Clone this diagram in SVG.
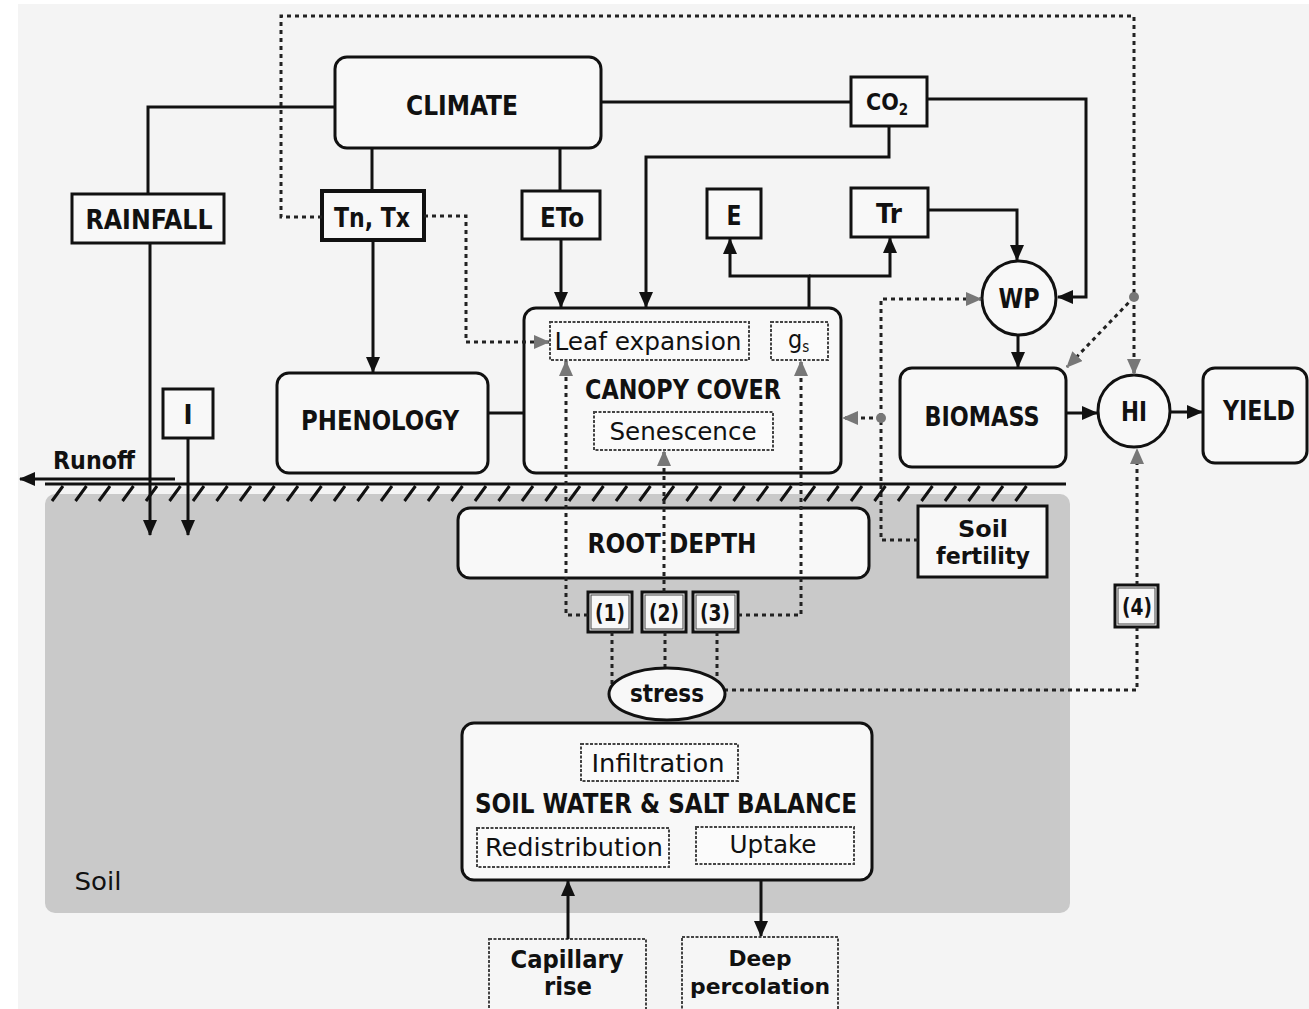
<svg xmlns="http://www.w3.org/2000/svg" width="1309" height="1009" viewBox="0 0 1309 1009">
<defs>
<style>
.t{font-family:"DejaVu Sans Condensed","DejaVu Sans",sans-serif;font-stretch:condensed;fill:#111;text-anchor:middle}
.b{font-weight:bold;font-size:27px}
.r{font-weight:normal;font-size:25px}
.node{fill:#f8f8f8;stroke:#111;stroke-width:3}
.sub{fill:#fbfbfb;stroke:#444;stroke-width:2;stroke-dasharray:3 1.5}
.solid{fill:none;stroke:#111;stroke-width:3}
.dot{fill:none;stroke:#222;stroke-width:3;stroke-dasharray:4 4}
</style>
<marker id="ah" markerUnits="userSpaceOnUse" markerWidth="16" markerHeight="14" refX="15" refY="7" orient="auto"><path d="M0,0 L16,7 L0,14 z" fill="#111"/></marker>
<marker id="ag" markerUnits="userSpaceOnUse" markerWidth="16" markerHeight="14" refX="15" refY="7" orient="auto"><path d="M0,0 L16,7 L0,14 z" fill="#777"/></marker>
</defs>
<rect x="0" y="0" width="1309" height="1009" fill="#ffffff"/>
<rect x="18" y="4" width="1291" height="1005" fill="#f4f4f4"/>
<rect x="45" y="494" width="1025" height="419" rx="10" fill="#c9c9c9"/>
<g id="ground">
<path d="M45,484 L1066,484" class="solid"/>
<path d="M52,501 l11,-15m12.5,15l11,-15m12.5,15l11,-15m12.5,15l11,-15m12.5,15l11,-15m12.5,15l11,-15m12.5,15l11,-15m12.5,15l11,-15m12.5,15l11,-15m12.5,15l11,-15m12.5,15l11,-15m12.5,15l11,-15m12.5,15l11,-15m12.5,15l11,-15m12.5,15l11,-15m12.5,15l11,-15m12.5,15l11,-15m12.5,15l11,-15m12.5,15l11,-15m12.5,15l11,-15m12.5,15l11,-15m12.5,15l11,-15m12.5,15l11,-15m12.5,15l11,-15m12.5,15l11,-15m12.5,15l11,-15m12.5,15l11,-15m12.5,15l11,-15m12.5,15l11,-15m12.5,15l11,-15m12.5,15l11,-15m12.5,15l11,-15m12.5,15l11,-15m12.5,15l11,-15m12.5,15l11,-15m12.5,15l11,-15m12.5,15l11,-15m12.5,15l11,-15m12.5,15l11,-15m12.5,15l11,-15m12.5,15l11,-15m12.5,15l11,-15" class="solid"/>
</g>
<g id="climate"><rect x="335" y="57" width="266" height="91" rx="12" class="node"/><text x="462" y="115" class="t b" textLength="112" lengthAdjust="spacingAndGlyphs">CLIMATE</text></g>
<g id="rainfall"><rect x="72" y="194" width="152" height="49" class="node"/><text x="149" y="229" class="t b" textLength="127" lengthAdjust="spacingAndGlyphs">RAINFALL</text></g>
<g id="tntx"><rect x="322" y="191" width="102" height="49" class="node" style="stroke-width:4"/><text x="372" y="227" class="t b" textLength="76" lengthAdjust="spacingAndGlyphs">Tn, Tx</text></g>
<g id="eto"><rect x="522" y="191" width="78" height="48" class="node"/><text x="562" y="227" class="t b" textLength="44" lengthAdjust="spacingAndGlyphs">ETo</text></g>
<g id="co2"><rect x="851" y="77" width="76" height="49" class="node"/><text x="866" y="110" class="t b" style="text-anchor:start;font-size:23px">CO<tspan style="font-size:15px" dy="5">2</tspan></text></g>
<g id="e"><rect x="707" y="189" width="54" height="49" class="node"/><text x="734" y="225" class="t b" textLength="15" lengthAdjust="spacingAndGlyphs">E</text></g>
<g id="tr"><rect x="851" y="188" width="77" height="49" class="node"/><text x="889" y="223" class="t b" textLength="26" lengthAdjust="spacingAndGlyphs">Tr</text></g>
<g id="wp"><circle cx="1019" cy="298" r="37" class="node"/><text x="1019" y="308" class="t b" textLength="41" lengthAdjust="spacingAndGlyphs">WP</text></g>
<g id="phenology"><rect x="277" y="373" width="211" height="100" rx="12" class="node"/><text x="380" y="430" class="t b" textLength="158" lengthAdjust="spacingAndGlyphs">PHENOLOGY</text></g>
<g id="canopy">
<rect x="524" y="308" width="317" height="165" rx="12" class="node"/>
<rect x="550" y="322" width="199" height="38" class="sub"/><text x="648" y="350" class="t r" textLength="187" lengthAdjust="spacingAndGlyphs">Leaf expansion</text>
<rect x="771" y="322" width="57" height="38" class="sub"/><text x="788" y="348" class="t r" style="text-anchor:start">g<tspan style="font-size:15px" dy="4">s</tspan></text>
<text x="683" y="399" class="t b" textLength="196" lengthAdjust="spacingAndGlyphs">CANOPY COVER</text>
<rect x="594" y="412" width="179" height="38" class="sub"/><text x="683" y="440" class="t r" textLength="147" lengthAdjust="spacingAndGlyphs">Senescence</text>
</g>
<g id="biomass"><rect x="900" y="368" width="166" height="99" rx="12" class="node"/><text x="982" y="426" class="t b" textLength="115" lengthAdjust="spacingAndGlyphs">BIOMASS</text></g>
<g id="hi"><circle cx="1134" cy="411" r="36" class="node"/><text x="1134" y="421" class="t b" textLength="26" lengthAdjust="spacingAndGlyphs">HI</text></g>
<g id="yield"><rect x="1203" y="368" width="104" height="95" rx="12" class="node"/><text x="1259" y="420" class="t b" textLength="72" lengthAdjust="spacingAndGlyphs">YIELD</text></g>
<g id="irrigation"><rect x="163" y="389" width="50" height="49" class="node"/><text x="188" y="424" class="t b">I</text></g>
<g id="rootdepth"><rect x="458" y="508" width="411" height="70" rx="12" class="node"/><text x="672" y="553" class="t b" textLength="169" lengthAdjust="spacingAndGlyphs">ROOT DEPTH</text></g>
<g id="soilfertility"><rect x="918" y="506" width="129" height="71" class="node"/><text x="983" y="537" class="t b" style="font-size:23px" textLength="50" lengthAdjust="spacingAndGlyphs">Soil</text><text x="983" y="564" class="t b" style="font-size:23px" textLength="94" lengthAdjust="spacingAndGlyphs">fertility</text></g>
<g id="stress1"><rect x="588" y="592" width="44" height="40" class="node"/><rect x="591" y="595" width="38" height="34" fill="none" stroke="#444" stroke-width="1"/><text x="610" y="621" class="t b" style="font-size:23px" textLength="30" lengthAdjust="spacingAndGlyphs">(1)</text></g>
<g id="stress2"><rect x="642" y="592" width="44" height="40" class="node"/><rect x="645" y="595" width="38" height="34" fill="none" stroke="#444" stroke-width="1"/><text x="664" y="621" class="t b" style="font-size:23px" textLength="30" lengthAdjust="spacingAndGlyphs">(2)</text></g>
<g id="stress3"><rect x="693" y="592" width="45" height="40" class="node"/><rect x="696" y="595" width="39" height="34" fill="none" stroke="#444" stroke-width="1"/><text x="715" y="621" class="t b" style="font-size:23px" textLength="30" lengthAdjust="spacingAndGlyphs">(3)</text></g>
<g id="stress4"><rect x="1115" y="585" width="43" height="42" class="node"/><rect x="1118" y="588" width="37" height="36" fill="none" stroke="#444" stroke-width="1"/><text x="1137" y="615" class="t b" style="font-size:23px" textLength="30" lengthAdjust="spacingAndGlyphs">(4)</text></g>
<g id="soilwater">
<rect x="462" y="723" width="410" height="157" rx="12" class="node"/>
<rect x="581" y="744" width="157" height="37" class="sub"/><text x="658" y="772" class="t r" textLength="133" lengthAdjust="spacingAndGlyphs">Infiltration</text>
<text x="666" y="813" class="t b" textLength="382" lengthAdjust="spacingAndGlyphs">SOIL WATER &amp; SALT BALANCE</text>
<rect x="477" y="828" width="192" height="39" class="sub"/><text x="574" y="856" class="t r" textLength="178" lengthAdjust="spacingAndGlyphs">Redistribution</text>
<rect x="696" y="827" width="158" height="37" class="sub"/><text x="773" y="853" class="t r" textLength="87" lengthAdjust="spacingAndGlyphs">Uptake</text>
</g>
<g id="capillary"><rect x="489" y="939" width="157" height="80" class="sub" style="fill:#f6f6f6"/><text x="567" y="968" class="t b" style="font-size:24px" textLength="113" lengthAdjust="spacingAndGlyphs">Capillary</text><text x="568" y="995" class="t b" style="font-size:24px" textLength="48" lengthAdjust="spacingAndGlyphs">rise</text></g>
<g id="deep"><rect x="682" y="937" width="156" height="80" class="sub" style="fill:#f6f6f6"/><text x="760" y="966" class="t b" style="font-size:22px" textLength="63" lengthAdjust="spacingAndGlyphs">Deep</text><text x="760" y="994" class="t b" style="font-size:22px" textLength="140" lengthAdjust="spacingAndGlyphs">percolation</text></g>
<g id="connectors">
<path d="M335,107 H148 V194" class="solid"/>
<path d="M372,148 V191" class="solid"/>
<path d="M560,148 V191" class="solid"/>
<path d="M601,102 H851" class="solid"/>
<path d="M927,99 H1086 V297 H1058" class="solid" marker-end="url(#ah)"/>
<path d="M889,126 V157 H646 V307" class="solid" marker-end="url(#ah)"/>
<path d="M561,239 V307" class="solid" marker-end="url(#ah)"/>
<path d="M373,240 V372" class="solid" marker-end="url(#ah)"/>
<path d="M809,308 V276 H730 V239" class="solid" marker-end="url(#ah)"/>
<path d="M809,276 H890 V238" class="solid" marker-end="url(#ah)"/>
<path d="M928,210 H1017 V260" class="solid" marker-end="url(#ah)"/>
<path d="M1018,335 V367" class="solid" marker-end="url(#ah)"/>
<path d="M1066,413 H1097" class="solid" marker-end="url(#ah)"/>
<path d="M1170,412 H1202" class="solid" marker-end="url(#ah)"/>
<path d="M488,413 H524" class="solid"/>
<path d="M150,243 V535" class="solid" marker-end="url(#ah)"/>
<path d="M188,438 V535" class="solid" marker-end="url(#ah)"/>
<path d="M175,479 H20" class="solid" marker-end="url(#ah)"/>
<path d="M568,939 V881" class="solid" marker-end="url(#ah)"/>
<path d="M761,880 V936" class="solid" marker-end="url(#ah)"/>
<path d="M322,217 H281 V16 H1134 V374" class="dot" marker-end="url(#ag)"/>
<path d="M1134,297 L1067,367" class="dot" marker-end="url(#ag)"/>
<path d="M424,216 H466 V342 H549" class="dot" marker-end="url(#ag)"/>
<path d="M918,540 H881 V299 H981" class="dot" marker-end="url(#ag)"/>
<path d="M881,418 H843" class="dot" marker-end="url(#ag)"/>
<path d="M588,615 H566 V361" class="dot" marker-end="url(#ag)"/>
<path d="M664,592 V451" class="dot" marker-end="url(#ag)"/>
<path d="M738,615 H801 V361" class="dot" marker-end="url(#ag)"/>
<path d="M612,632 V686" class="dot"/>
<path d="M665,632 V668" class="dot"/>
<path d="M717,632 V681" class="dot"/>
<path d="M724,690 H1137 V627" class="dot"/>
<path d="M1137,585 V449" class="dot" marker-end="url(#ag)"/>
<circle cx="1134" cy="297" r="5" fill="#777"/>
<circle cx="881" cy="418" r="5" fill="#777"/>
</g>
<g id="stress"><ellipse cx="667" cy="694" rx="58" ry="26" class="node"/><text x="667" y="702" class="t b" style="font-size:25px" textLength="74" lengthAdjust="spacingAndGlyphs">stress</text></g>
<text x="94" y="469" class="t b" style="font-size:25px" textLength="82" lengthAdjust="spacingAndGlyphs">Runoff</text>
<text x="98" y="890" class="t r" style="font-size:25px" textLength="47" lengthAdjust="spacingAndGlyphs">Soil</text>
</svg>
